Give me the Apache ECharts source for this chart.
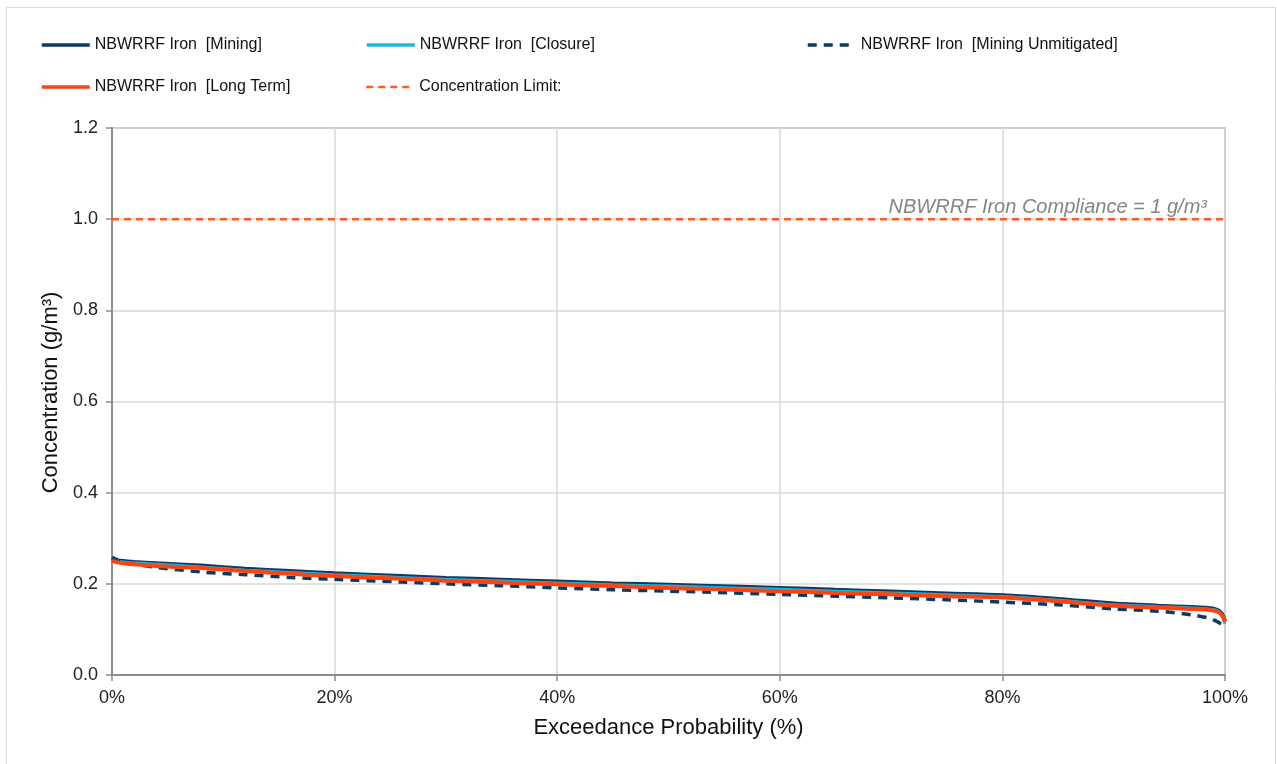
<!DOCTYPE html>
<html>
<head>
<meta charset="utf-8">
<script src="https://cdn.jsdelivr.net/npm/echarts@6/dist/echarts.min.js"></script>
<style>
html,body{margin:0;padding:0;background:#fff;}
#chart{width:1277px;height:764px;}
</style>
</head>
<body>
<div id="chart"></div>
<script>
// ---- Data ----
const exceedance = [0, 0.5, 1, 2, 4, 8, 12, 16, 20, 26, 30, 35, 40, 45, 50, 53, 60, 65, 70, 75, 80, 85, 90, 94, 97, 98.5, 99.3, 99.7, 100];
const mining = [0.258, 0.252, 0.250, 0.248, 0.245, 0.240, 0.233, 0.228, 0.223, 0.217, 0.213, 0.209, 0.205, 0.201, 0.198, 0.196, 0.191, 0.187, 0.183, 0.179, 0.175, 0.167, 0.157, 0.152, 0.149, 0.147, 0.143, 0.135, 0.118];
const closure = [0.255, 0.250, 0.248, 0.246, 0.243, 0.237, 0.230, 0.225, 0.220, 0.214, 0.210, 0.206, 0.202, 0.198, 0.195, 0.193, 0.188, 0.184, 0.180, 0.176, 0.172, 0.164, 0.154, 0.150, 0.147, 0.145, 0.141, 0.132, 0.112];
const miningUnmitigated = [0.255, 0.249, 0.246, 0.243, 0.236, 0.226, 0.220, 0.214, 0.210, 0.204, 0.200, 0.196, 0.191, 0.187, 0.184, 0.182, 0.177, 0.173, 0.169, 0.165, 0.160, 0.154, 0.145, 0.140, 0.132, 0.125, 0.117, 0.111, 0.106];
const longTerm = [0.251, 0.247, 0.245, 0.243, 0.239, 0.235, 0.228, 0.222, 0.217, 0.211, 0.207, 0.203, 0.199, 0.195, 0.191, 0.189, 0.184, 0.180, 0.177, 0.173, 0.170, 0.162, 0.152, 0.148, 0.145, 0.143, 0.139, 0.132, 0.117];
const limitX = [0, 100];
const limitY = [1, 1];
const limitText = 'NBWRRF Iron Compliance = 1 g/m³';
const seriesNames = ['NBWRRF Iron  [Mining]', 'NBWRRF Iron  [Closure]', 'NBWRRF Iron  [Mining Unmitigated]', 'NBWRRF Iron  [Long Term]', 'Concentration Limit:'];
const xAxisName = 'Exceedance Probability (%)';
const yAxisName = 'Concentration (g/m³)';

const pair = (xs, ys) => xs.map((x, i) => [x, ys[i]]);

const FONT = 'Liberation Sans, Arial, sans-serif';
const legendBase = (name, left, top, lw) => ({
  data: [name], left: left, top: top, itemWidth: 48, itemHeight: 14, itemGap: 0,
  itemStyle: { opacity: 0 },
  lineStyle: { width: lw },
  textStyle: { fontFamily: FONT, fontSize: 16, color: '#111' }, padding: 0, selectedMode: false
});

const chart = echarts.init(document.getElementById('chart'), null, { renderer: 'canvas' });
chart.setOption({
  backgroundColor: '#fff',
  animation: false,
  graphic: [{
    type: 'rect', shape: { x: 6.5, y: 7.5, width: 1269, height: 780 },
    style: { fill: 'none', stroke: '#d9d9d9', lineWidth: 1 }, silent: true, z: -10
  }],
  legend: [
    legendBase(seriesNames[0], 40, 37, 3.5),
    legendBase(seriesNames[1], 365, 37, 3.5),
    legendBase(seriesNames[2], 806, 37, 3.5),
    legendBase(seriesNames[3], 40, 79, 3.5),
    legendBase(seriesNames[4], 365, 79, 2.5)
  ],
  grid: { left: 112, right: 52, top: 128, bottom: 89, show: true, borderColor: '#9a9a9a', borderWidth: 1.5, containLabel: false },
  xAxis: {
    type: 'value', min: 0, max: 100, interval: 20,
    name: xAxisName, nameLocation: 'middle', nameGap: 42,
    nameTextStyle: { fontFamily: FONT, fontSize: 22, color: '#111' },
    axisLine: { show: true, lineStyle: { color: '#8c8c8c', width: 2 } },
    axisTick: { show: true, length: 6, lineStyle: { color: '#8c8c8c', width: 1.5 } },
    axisLabel: { formatter: '{value}%', fontFamily: FONT, fontSize: 18, color: '#222', margin: 14 },
    splitLine: { show: true, lineStyle: { color: '#d9d9d9', width: 1.5 } }
  },
  yAxis: {
    type: 'value', min: 0, max: 1.2, interval: 0.2,
    name: yAxisName, nameLocation: 'middle', nameGap: 50,
    nameTextStyle: { fontFamily: FONT, fontSize: 22, color: '#111', padding: [0, 0, 0, 18] },
    axisLine: { show: true, lineStyle: { color: '#8c8c8c', width: 2 } },
    axisTick: { show: true, length: 6, lineStyle: { color: '#8c8c8c', width: 1.5 } },
    axisLabel: { formatter: v => v.toFixed(1), fontFamily: FONT, fontSize: 18, color: '#222', margin: 14 },
    splitLine: { show: true, lineStyle: { color: '#d9d9d9', width: 1.5 } }
  },
  series: [
    { name: seriesNames[0], type: 'line', data: pair(exceedance, mining), symbol: 'none', smooth: 0.3,
      lineStyle: { color: '#0B3A63', width: 4 }, itemStyle: { color: '#0B3A63' }, z: 2 },
    { name: seriesNames[1], type: 'line', data: pair(exceedance, closure), symbol: 'none', smooth: 0.3,
      lineStyle: { color: '#19B8E3', width: 3 }, itemStyle: { color: '#19B8E3' }, z: 3 },
    { name: seriesNames[2], type: 'line', data: pair(exceedance, miningUnmitigated), symbol: 'none', smooth: 0.3,
      lineStyle: { color: '#0B3A63', width: 3.5, type: [9, 7] }, itemStyle: { color: '#0B3A63' }, z: 4 },
    { name: seriesNames[3], type: 'line', data: pair(exceedance, longTerm), symbol: 'none', smooth: 0.3,
      lineStyle: { color: '#FF4210', width: 4 }, itemStyle: { color: '#FF4210' }, z: 5 },
    { name: seriesNames[4], type: 'line', data: pair(limitX, limitY), symbol: 'none',
      lineStyle: { color: '#FF5A1F', width: 2.5, type: [7, 5] }, itemStyle: { color: '#FF5A1F' }, z: 6,
      markPoint: {
        symbol: 'circle', symbolSize: 0, silent: true,
        itemStyle: { color: 'rgba(0,0,0,0)' },
        label: { show: true, position: 'top', align: 'right', distance: 5, offset: [-18, 3],
          formatter: limitText, fontFamily: FONT, fontSize: 20, fontStyle: 'italic', color: '#858585' },
        data: [{ coord: [limitX[limitX.length - 1], limitY[limitY.length - 1]] }]
      } }
  ]
});
</script>
</body>
</html>
